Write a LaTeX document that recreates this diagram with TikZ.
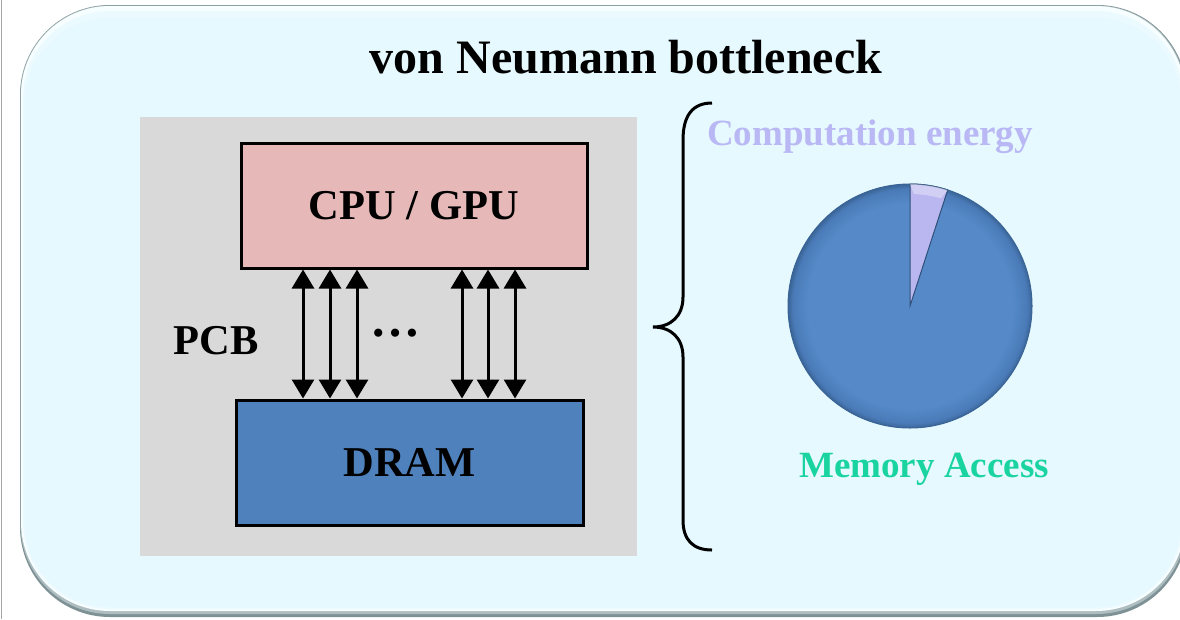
\documentclass[tikz,border=0pt]{standalone}
\usepackage{fontspec}
\setmainfont{Liberation Serif}
\usetikzlibrary{arrows.meta}

\definecolor{panelcyan}{HTML}{E6F9FE}
\definecolor{panelrim}{HTML}{7E9296}
\definecolor{panelhi}{HTML}{F7FEFF}
\definecolor{pcbgray}{HTML}{D9D9D9}
\definecolor{cpupink}{HTML}{E6B9B8}
\definecolor{dramblue}{HTML}{4F81BD}
\definecolor{compcol}{HTML}{B9B8F4}
\definecolor{memcol}{HTML}{1AD49F}
\definecolor{pieA}{HTML}{5589C8}
\definecolor{pieB}{HTML}{4A7BB8}
\definecolor{pieC}{HTML}{3A6496}
\definecolor{slicecol}{HTML}{BAB6F0}

\pgfdeclareradialshading{pieshade}{\pgfpoint{0bp}{0bp}}{%
  color(0bp)=(pieA); color(21bp)=(pieA); color(24bp)=(pieB);
  color(25bp)=(pieC); color(50bp)=(pieC)}

\tikzset{
  x=1pt, y=-1pt,
  chip/.style={draw=black, line width=3pt, inner sep=0pt,
    font=\fontsize{42.5}{50}\selectfont\bfseries},
  label/.style={inner sep=0pt, anchor=base},
  bus/.style={line width=3pt, >={Triangle[width=22pt,length=19pt]}, <->},
}

\begin{document}
\begin{tikzpicture}
\useasboundingbox (0,0) rectangle (1180,619);
\clip (0,0) rectangle (1180,619);
\fill[white] (0,0) rectangle (1180,619);
\draw[gray!70, line width=1pt] (1.5,0) -- (1.5,619);

% rounded panel with bevelled rim
\fill[panelrim] (20,5) [rounded corners=90pt] rectangle (1187,617);
\fill[panelrim!60!panelhi] (20.5,5.5) [rounded corners=89.5pt] rectangle (1186,614);
\fill[panelhi] (21,6) [rounded corners=89pt] rectangle (1185,611);
\fill[panelcyan!70!panelhi] (23,11) [rounded corners=87pt] rectangle (1183,609);
\fill[panelcyan] (25,18) [rounded corners=85pt] rectangle (1181,607);

% title
\node[label, font=\fontsize{48}{58}\selectfont\bfseries] (title) at (626,73) {von Neumann bottleneck};

% board with processor and memory
\node[fill=pcbgray, minimum width=497pt, minimum height=439pt, inner sep=0pt] (pcb) at (388.5,336.5) {};
\node[chip, fill=cpupink, minimum width=346pt, minimum height=125pt] (cpu) at (414,205.5) {CPU / GPU};
\node[chip, fill=dramblue, minimum width=347pt, minimum height=125pt] (dram) at (409.5,462.5) {DRAM};
\node[label, font=\fontsize{42.5}{50}\selectfont\bfseries] (pcblabel) at (216,354) {PCB};
\node[label, font=\fontsize{50}{60}\selectfont\bfseries] (dots) at (395,336) {\ldots};

% data lines between processor and memory
\foreach \i/\xx in {1/303,2/330,3/357,4/462,5/488,6/515} {
  \coordinate (lane\i) at (\xx,0);
  \draw[bus] (cpu.south -| lane\i) -- (dram.north -| lane\i);
}

% brace
\draw[line width=3pt] (712,103) .. controls (693,103) and (683,115) .. (683,140)
  -- (683,297) .. controls (683,316) and (671,327) .. (653,327)
  .. controls (671,327) and (683,338) .. (683,357)
  -- (683,520) .. controls (683,540) and (693,550) .. (712,550);

% energy pie
\begin{scope}[shift={(910,306)}, y=1pt]
  \path[shading=pieshade] (0,0) circle[radius=122];
  \draw[pieC, line width=1pt] (0,0) circle[radius=122];
  \draw[pieC!80!black, line width=1pt, fill=slicecol]
    (0,0) -- (72:122) arc[start angle=72, end angle=90, radius=122] -- cycle;
  \fill[white, opacity=0.35] (90:122) arc[start angle=90, end angle=72, radius=122]
    -- (74:112) arc[start angle=74, end angle=88, radius=112] -- cycle;
\end{scope}

\node[label, text=compcol, font=\fontsize{37}{44}\selectfont\bfseries] (comp) at (870,145) {Computation energy};
\node[label, text=memcol, font=\fontsize{37}{44}\selectfont\bfseries] (mem) at (924,477) {Memory Access};
\end{tikzpicture}
\end{document}
